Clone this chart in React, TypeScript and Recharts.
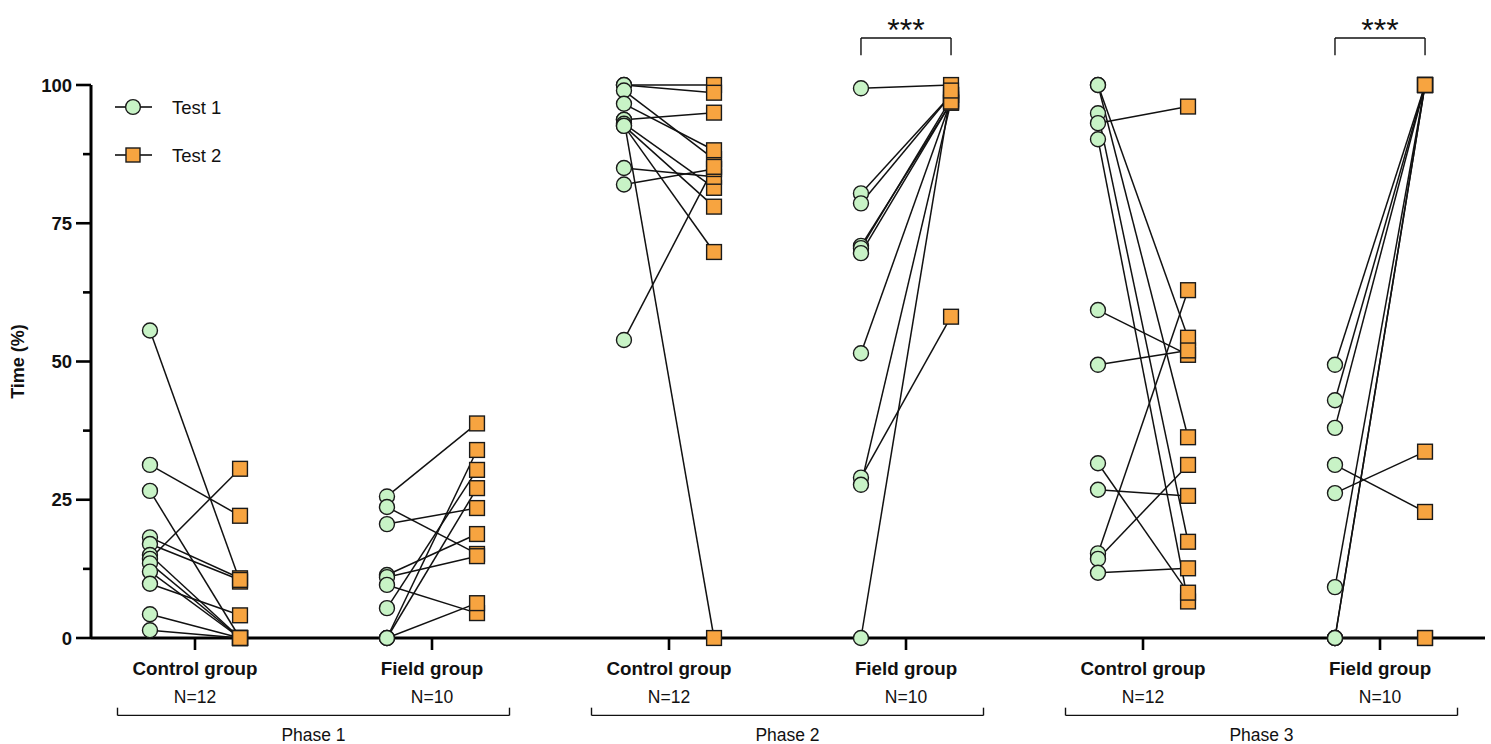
import React from 'react';
import { ScatterChart, Scatter, XAxis, YAxis, ReferenceLine, ReferenceDot, Legend, Label } from 'recharts';

const FONT = '"Liberation Sans", Arial, Helvetica, sans-serif';

// Categories / tick labels
const groupLabels = ['Control group', 'Field group', 'Control group', 'Field group', 'Control group', 'Field group'];
const groupN = ['N=12', 'N=10', 'N=12', 'N=10', 'N=12', 'N=10'];
const phaseLabels = ['Phase 1', 'Phase 2', 'Phase 3'];
const yTicks = [0, 12.5, 25, 37.5, 50, 62.5, 75, 87.5, 100];
const seriesNames = ['Test 1', 'Test 2'];
const sigGroups = [3, 5];
const sigLabel = '***';

// Series values (paired: index i of Test 1 links to index i of Test 2)
const p1ControlTest1 = [55.6, 31.3, 26.6, 18.2, 17.0, 15.0, 14.3, 13.5, 12.0, 9.8, 4.3, 1.4];
const p1ControlTest2 = [10.2, 22.1, 0, 10.8, 10.5, 0, 30.6, 0, 0, 4.1, 0, 0];
const p1FieldTest1 = [25.6, 23.7, 20.6, 11.4, 11.0, 9.6, 5.4, 0, 0, 0];
const p1FieldTest2 = [38.8, 15.2, 23.5, 18.8, 14.8, 4.5, 30.4, 34.0, 27.1, 6.3];
const p2ControlTest1 = [100, 100, 99.0, 96.6, 93.7, 93.7, 93.0, 92.6, 92.6, 85.0, 82.0, 53.9];
const p2ControlTest2 = [100, 98.6, 86.6, 88.2, 95.0, 0, 81.4, 78.0, 69.8, 83.4, 84.8, 85.2];
const p2FieldTest1 = [99.4, 80.4, 78.6, 70.9, 70.5, 69.6, 51.5, 29.0, 27.7, 0];
const p2FieldTest2 = [100, 98.2, 98.2, 96.8, 97.5, 96.8, 97.2, 58.1, 97.0, 99.0];
const p3ControlTest1 = [100, 100, 94.9, 93.1, 90.2, 59.3, 49.4, 31.6, 26.8, 15.3, 14.3, 11.8];
const p3ControlTest2 = [54.3, 36.3, 17.4, 96.1, 6.6, 51.2, 52.0, 8.2, 25.7, 62.9, 31.3, 12.6];
const p3FieldTest1 = [49.4, 43.0, 38.0, 31.3, 26.2, 9.2, 0, 0, 0, 0];
const p3FieldTest2 = [100, 100, 100, 22.8, 33.7, 100, 100, 100, 0, 0];

const groupsT1 = [p1ControlTest1, p1FieldTest1, p2ControlTest1, p2FieldTest1, p3ControlTest1, p3FieldTest1];
const groupsT2 = [p1ControlTest2, p1FieldTest2, p2ControlTest2, p2FieldTest2, p3ControlTest2, p3FieldTest2];

const X_OFF = 0.19;
const GREEN = '#c8f3c6';
const ORANGE = '#f7a440';
const EDGE = '#1a1a1a';

const pairs = groupsT1.flatMap((t1, g) =>
  t1.map((v, i) => [
    { x: g - X_OFF, y: v },
    { x: g + X_OFF, y: groupsT2[g][i] },
  ])
);
const test1Points = groupsT1.flatMap((t1, g) => t1.map((v) => ({ x: g - X_OFF, y: v })));
const test2Points = groupsT2.flatMap((t2, g) => t2.map((v) => ({ x: g + X_OFF, y: v })));

const CircleShape = (p: any) => (
  <circle cx={p.cx} cy={p.cy} r={7.5} fill={GREEN} stroke={EDGE} strokeWidth={1.4} />
);
const SquareShape = (p: any) => (
  <rect x={p.cx - 7.4} y={p.cy - 7.4} width={14.8} height={14.8} fill={ORANGE} stroke={EDGE} strokeWidth={1.4} />
);
const NoShape = () => <g />;

const YTick = (props: any) => {
  const { x, y, payload } = props;
  const major = payload.value % 25 === 0;
  return (
    <g>
      <line x1={x - (major ? 15 : 8)} x2={x} y1={y} y2={y} stroke="#000" strokeWidth={2.6} />
      {major && (
        <text x={x - 19} y={y} dy={6.5} textAnchor="end" fontFamily={FONT} fontWeight="bold" fontSize={18.5} fill="#111">
          {payload.value}
        </text>
      )}
    </g>
  );
};

const XTick = (props: any) => {
  const { x, y, payload } = props;
  const i = payload.value;
  return (
    <g>
      <line x1={x} x2={x} y1={y} y2={y + 12} stroke="#000" strokeWidth={2.6} />
      <text x={x} y={y + 37} textAnchor="middle" fontFamily={FONT} fontWeight="bold" fontSize={18.8} fill="#111">
        {groupLabels[i]}
      </text>
      <text x={x} y={y + 65} textAnchor="middle" fontFamily={FONT} fontSize={17.5} fill="#111">
        {groupN[i]}
      </text>
    </g>
  );
};

const YLabel = (props: any) => {
  const vb = props.viewBox || { y: 85, height: 553 };
  const cy = vb.y + vb.height / 2;
  return (
    <text x={18} y={cy} transform={`rotate(-90 18 ${cy})`} textAnchor="middle" dominantBaseline="central"
      fontFamily={FONT} fontWeight="bold" fontSize={18} fill="#111">
      Time (%)
    </text>
  );
};

const LegendContent = () => (
  <svg width={130} height={72} style={{ display: 'block', overflow: 'visible' }}>
    <line x1={5} x2={42} y1={15} y2={15} stroke="#000" strokeWidth={1.5} />
    <circle cx={23} cy={15} r={7.4} fill={GREEN} stroke={EDGE} strokeWidth={1.4} />
    <text x={62} y={15} dy={6.5} fontFamily={FONT} fontSize={18.5} fill="#111">{seriesNames[0]}</text>
    <line x1={5} x2={42} y1={63} y2={63} stroke="#000" strokeWidth={1.5} />
    <rect x={16} y={56} width={14} height={14} fill={ORANGE} stroke={EDGE} strokeWidth={1.4} />
    <text x={62} y={63} dy={6.5} fontFamily={FONT} fontSize={18.5} fill="#111">{seriesNames[1]}</text>
  </svg>
);

const makeText = (label: string, size: number, weight: string) => (p: any) => (
  <text x={p.cx} y={p.cy} textAnchor="middle" fontFamily={FONT} fontSize={size} fontWeight={weight} fill="#111">
    {label}
  </text>
);

export default function App() {
  const PH = 0.827;
  const bracketY = -14.0;
  const bracketEnd = -12.6;
  const sigY = 108.5;
  const sigEnd = 105.4;
  return (
    <div style={{ position: 'absolute', left: 0, top: 0, width: 1491, height: 744, background: '#fff' }}>
      <ScatterChart width={1491} height={744} margin={{ top: 85, right: 6, bottom: 0, left: 0 }}>
        <XAxis
          type="number"
          dataKey="x"
          domain={[-0.4388, 5.443]}
          ticks={[0, 1, 2, 3, 4, 5]}
          interval={0}
          tick={<XTick />}
          tickSize={0}
          tickMargin={0}
          tickLine={false}
          axisLine={{ stroke: '#000', strokeWidth: 3 }}
          height={106}
        />
        <YAxis
          type="number"
          dataKey="y"
          domain={[0, 100]}
          ticks={yTicks}
          interval={0}
          tick={<YTick />}
          tickSize={0}
          tickMargin={0}
          tickLine={false}
          axisLine={{ stroke: '#000', strokeWidth: 3 }}
          width={91}
        >
          <Label content={<YLabel />} />
        </YAxis>
        <Legend
          content={<LegendContent />}
          layout="vertical"
          align="center"
          verticalAlign="middle"
          wrapperStyle={{ left: 110, top: 92, width: 130, height: 72 }}
        />
        {pairs.map((pair, k) => (
          <Scatter
            key={`pair-${k}`}
            data={pair}
            line={{ stroke: '#111', strokeWidth: 1.5 }}
            shape={<NoShape />}
            isAnimationActive={false}
            legendType="none"
          />
        ))}
        <Scatter name={seriesNames[0]} data={test1Points} shape={<CircleShape />} isAnimationActive={false} />
        <Scatter name={seriesNames[1]} data={test2Points} shape={<SquareShape />} isAnimationActive={false} />

        {phaseLabels.map((ph, k) => {
          const c = 2 * k + 0.5;
          return (
            <React.Fragment key={ph}>
              <ReferenceLine segment={[{ x: c - PH, y: bracketY }, { x: c + PH, y: bracketY }]} stroke="#111" strokeWidth={1.4} ifOverflow="visible" />
              <ReferenceLine segment={[{ x: c - PH, y: bracketY }, { x: c - PH, y: bracketEnd }]} stroke="#111" strokeWidth={1.4} ifOverflow="visible" />
              <ReferenceLine segment={[{ x: c + PH, y: bracketY }, { x: c + PH, y: bracketEnd }]} stroke="#111" strokeWidth={1.4} ifOverflow="visible" />
              <ReferenceDot x={c} y={-18.7} r={0} ifOverflow="visible" shape={makeText(ph, 17.5, 'normal')} />
            </React.Fragment>
          );
        })}

        {sigGroups.map((g) => (
          <React.Fragment key={`sig-${g}`}>
            <ReferenceLine segment={[{ x: g - X_OFF, y: sigY }, { x: g + X_OFF, y: sigY }]} stroke="#111" strokeWidth={1.4} ifOverflow="visible" />
            <ReferenceLine segment={[{ x: g - X_OFF, y: sigY }, { x: g - X_OFF, y: sigEnd }]} stroke="#111" strokeWidth={1.4} ifOverflow="visible" />
            <ReferenceLine segment={[{ x: g + X_OFF, y: sigY }, { x: g + X_OFF, y: sigEnd }]} stroke="#111" strokeWidth={1.4} ifOverflow="visible" />
            <ReferenceDot x={g} y={107.9} r={0} ifOverflow="visible" shape={makeText(sigLabel, 32, 'normal')} />
          </React.Fragment>
        ))}
      </ScatterChart>
    </div>
  );
}
